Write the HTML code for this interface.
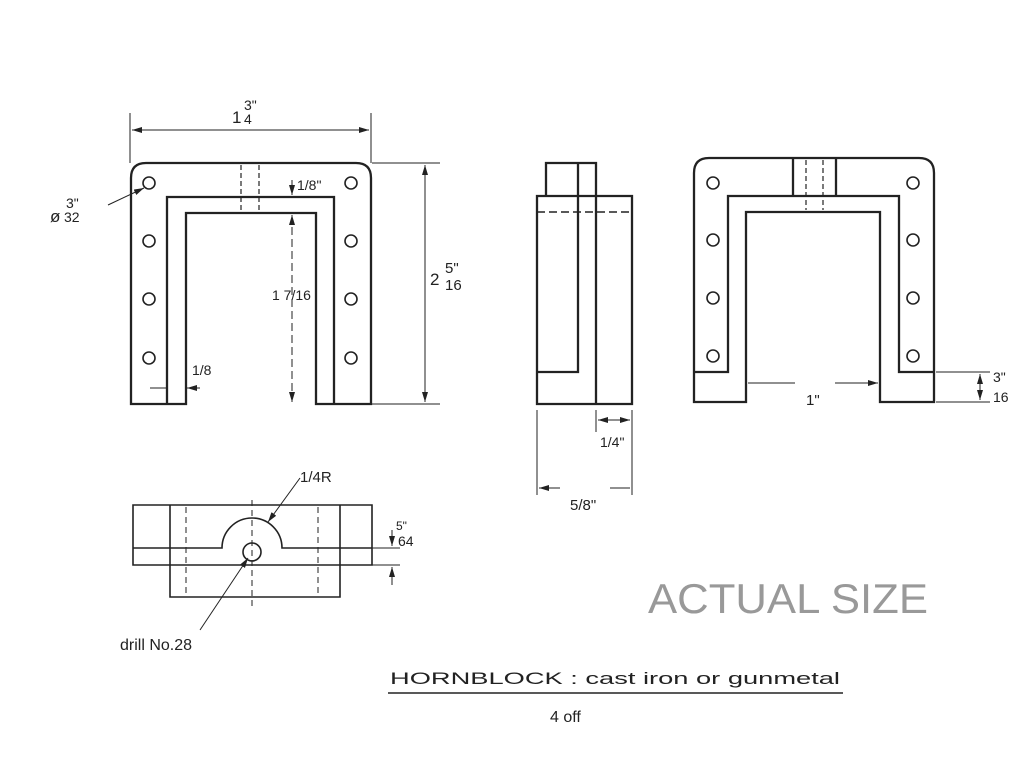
<!DOCTYPE html>
<html><head><style>
html,body{margin:0;padding:0;background:#fff;}
svg{display:block}
text{font-family:"Liberation Sans",sans-serif;fill:#222}
</style></head><body>
<svg width="1024" height="758" viewBox="0 0 1024 758" xmlns="http://www.w3.org/2000/svg">
<defs>
<marker id="a" viewBox="0 0 10 6" refX="10" refY="3" markerWidth="10" markerHeight="6" orient="auto-start-reverse" markerUnits="userSpaceOnUse"><path d="M0,0 L10,3 L0,6z" fill="#222"/></marker>
</defs>
<g fill="none" stroke="#222" stroke-width="2.3">
<path d="M131,404 V178 Q131,163 146,163 H356 Q371,163 371,178 V404 H316 V213 H186 V404 Z"/>
<path d="M167,404 V197 H334 V404"/>
<g stroke-width="1.6">
<circle cx="149" cy="183" r="6"/><circle cx="149" cy="241" r="6"/><circle cx="149" cy="299" r="6"/><circle cx="149" cy="358" r="6"/>
<circle cx="351" cy="183" r="6"/><circle cx="351" cy="241" r="6"/><circle cx="351" cy="299" r="6"/><circle cx="351" cy="358" r="6"/>
</g>
<g stroke-width="1.2" stroke-dasharray="5,3"><path d="M241,165 V212 M259,165 V212"/></g>
<path d="M546,196 V163 H596 V196 M537,196 H632 V404 H537 Z M596,163 V404 M578,163 V372 H537"/>
<path d="M537,212 H632" stroke-dasharray="8,4" stroke-width="1.5"/>
<path d="M694,402 V173 Q694,158 709,158 H919 Q934,158 934,173 V402 H880 V212 H746 V402 Z"/>
<path d="M694,372 H728 V196 H899 V372 H934 M793,158 V196 M836,158 V196"/>
<g stroke-width="1.2" stroke-dasharray="5,3"><path d="M806,160 V210 M823,160 V210"/></g>
<g stroke-width="1.6">
<circle cx="713" cy="183" r="6"/><circle cx="713" cy="240" r="6"/><circle cx="713" cy="298" r="6"/><circle cx="713" cy="356" r="6"/>
<circle cx="913" cy="183" r="6"/><circle cx="913" cy="240" r="6"/><circle cx="913" cy="298" r="6"/><circle cx="913" cy="356" r="6"/>
</g>
<g stroke-width="1.6">
<path d="M133,505 H372 V565 H133 Z M170,505 V597 H340 V505 M170,565 V597"/>
<path d="M133,548 H222 A30,30 0 0 1 282,548 H372"/>
<circle cx="252" cy="552" r="9"/>
</g>
<g stroke-width="1" stroke-dasharray="6,4"><path d="M186,507 V595 M318,507 V595 M252,500 V610"/></g>
</g>
<g fill="none" stroke="#222" stroke-width="1">
<path d="M130,113 V163 M371,113 V163"/>
<path d="M132,130 H369" marker-start="url(#a)" marker-end="url(#a)"/>
<path d="M372,163 H440 M372,404 H440"/>
<path d="M425,165 V402" marker-start="url(#a)" marker-end="url(#a)"/>
<path d="M292,215 V402" stroke-dasharray="8,4" marker-start="url(#a)" marker-end="url(#a)"/>
<path d="M292,180 V195" marker-end="url(#a)"/>
<path d="M150,388 H167 M200,388 H187" marker-end="url(#a)"/>
<path d="M108,205 L144,188" marker-end="url(#a)"/>
<path d="M537,410 V495 M632,410 V495 M596,410 V432"/>
<path d="M598,420 H630" marker-start="url(#a)" marker-end="url(#a)"/>
<path d="M539,488 H560 M630,488 H610" marker-start="url(#a)"/>
<path d="M795,383 H748 M835,383 H878" marker-end="url(#a)"/>
<path d="M936,372 H990 M936,402 H990"/>
<path d="M980,374 V400" marker-start="url(#a)" marker-end="url(#a)"/>
<path d="M300,478 L268,522" marker-end="url(#a)"/>
<path d="M200,630 L248,558" marker-end="url(#a)"/>
<path d="M372,548 H400 M372,565 H400"/>
<path d="M392,530 V546" marker-end="url(#a)"/>
<path d="M392,585 V567" marker-end="url(#a)"/>
</g>
<g font-size="17">
<text x="232" y="123">1</text><text x="244" y="110" font-size="14">3"</text><text x="244" y="124" font-size="14">4</text>
<text x="430" y="285">2</text><text x="445" y="273" font-size="15">5"</text><text x="445" y="290" font-size="15">16</text>
<text x="297" y="190" font-size="14">1/8"</text>
<text x="272" y="300" font-size="14">1 7/16</text>
<text x="192" y="375" font-size="14">1/8</text>
<text x="50" y="222" font-size="17">ø</text><text x="66" y="208" font-size="14">3"</text><text x="64" y="222" font-size="14">32</text>
<text x="600" y="447" font-size="14">1/4"</text>
<text x="570" y="510" font-size="15" fill="#555">5/8"</text>
<text x="806" y="405" font-size="15">1"</text>
<text x="993" y="382" font-size="14">3"</text><text x="993" y="402" font-size="14">16</text>
<text x="300" y="482" font-size="15">1/4R</text>
<text x="396" y="530" font-size="12" fill="#666">5"</text><text x="398" y="546" font-size="14">64</text>
<text x="120" y="650" font-size="16">drill No.28</text>
</g>
<text x="648" y="613" font-size="42" textLength="280" lengthAdjust="spacingAndGlyphs" style="fill:#999">ACTUAL SIZE</text>
<text x="390" y="684" font-size="17" textLength="450" lengthAdjust="spacingAndGlyphs">HORNBLOCK : cast iron or gunmetal</text>
<path d="M388,693 H843" stroke="#222" stroke-width="1.5"/>
<text x="550" y="722" font-size="16">4 off</text>
</svg>
</body></html>
